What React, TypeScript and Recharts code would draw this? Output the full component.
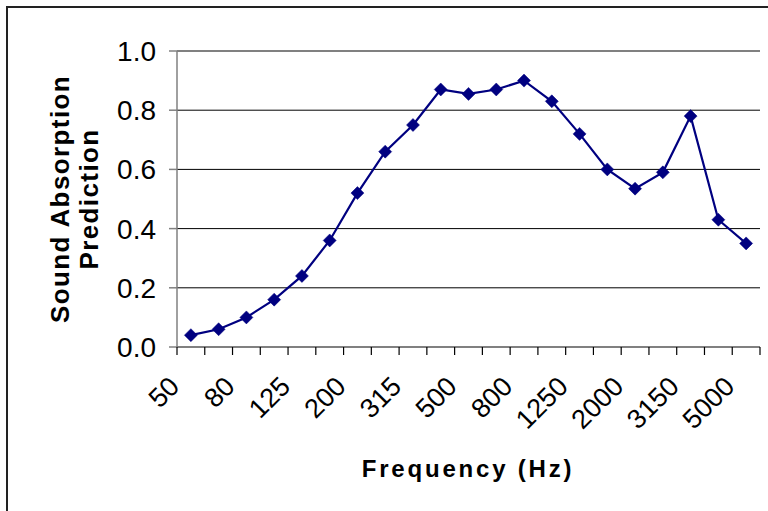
import React from "react";
import { LineChart, Line, XAxis, YAxis, CartesianGrid, ReferenceLine, Label } from "recharts";

const frequencies = ["50", "63", "80", "100", "125", "160", "200", "250", "315", "400", "500", "630", "800", "1000", "1250", "1600", "2000", "2500", "3150", "4000", "5000"];
const absorption = [0.04, 0.06, 0.10, 0.16, 0.24, 0.36, 0.52, 0.66, 0.75, 0.87, 0.855, 0.87, 0.90, 0.83, 0.72, 0.60, 0.535, 0.59, 0.78, 0.43, 0.35];
const yTicks = [0, 0.2, 0.4, 0.6, 0.8, 1.0];
const labelIdx = frequencies.map((_, i) => i).filter((i) => i % 2 === 0);
const boundaryTicks = frequencies.map((_, i) => i - 0.5).concat([frequencies.length - 0.5]);
const allTicks = [...boundaryTicks, ...labelIdx].sort((a, b) => a - b);

const data = frequencies.map((f, i) => ({ idx: i, freq: f, value: absorption[i] }));

const FONT = "'Liberation Sans', Arial, sans-serif";
const NAVY = "#000080";

const FreqTick = (props: any) => {
  const { x, y, payload } = props;
  const v = payload.value;
  if (!Number.isInteger(v)) {
    return <line x1={x} y1={y} x2={x} y2={y + 8} stroke="#000" strokeWidth={1.2} />;
  }
  const label = frequencies[v];
  const ax = x - 10;
  const ay = y + 41;
  return (
    <text
      x={ax}
      y={ay}
      transform={`rotate(-45, ${ax}, ${ay})`}
      textAnchor="end"
      fontFamily={FONT}
      fontSize={27}
      fill="#000"
    >
      {label}
    </text>
  );
};

const Diamond = (props: any) => {
  const { cx, cy, index } = props;
  if (cx == null || cy == null) return <g key={index} />;
  const r = 6.5;
  return (
    <polygon
      key={index}
      points={`${cx},${cy - r} ${cx + r},${cy} ${cx},${cy + r} ${cx - r},${cy}`}
      fill={NAVY}
      stroke={NAVY}
      strokeWidth={0.5}
    />
  );
};

export default function App() {
  return (
    <div style={{ position: "relative", width: 768, height: 511, background: "#fff", overflow: "hidden" }}>
      <style>{`body{margin:0;}`}</style>
      <div
        style={{
          position: "absolute",
          left: 6,
          top: 6,
          width: 762,
          height: 505,
          borderLeft: "2px solid #222",
          borderTop: "2px solid #222",
          boxSizing: "border-box",
          pointerEvents: "none",
        }}
      />
      <LineChart width={768} height={511} data={data} margin={{ top: 51, right: 8, bottom: 0, left: 0 }}>
        <CartesianGrid vertical={false} stroke="#000" strokeWidth={1} />
        <XAxis
          type="number"
          dataKey="idx"
          domain={[-0.5, frequencies.length - 0.5]}
          ticks={allTicks}
          interval={0}
          tick={<FreqTick />}
          tickLine={false}
          tickSize={0}
          tickMargin={0}
          axisLine={{ stroke: "#808080", strokeWidth: 1.5 }}
          height={164}
          allowDataOverflow
        >
          <Label
            content={() => (
              <text
                x={468}
                y={477}
                textAnchor="middle"
                fontFamily={FONT}
                fontWeight="bold"
                fontSize={24}
                letterSpacing={2.8}
                fill="#000"
              >
                Frequency (Hz)
              </text>
            )}
          />
        </XAxis>
        <YAxis
          type="number"
          domain={[0, 1]}
          ticks={yTicks}
          interval={0}
          width={177}
          tickFormatter={(v: number) => v.toFixed(1)}
          tick={{ fontFamily: FONT, fontSize: 28, fill: "#000" }}
          tickLine={{ stroke: "#808080", strokeWidth: 1.5 }}
          tickSize={8}
          tickMargin={13}
          axisLine={{ stroke: "#808080", strokeWidth: 1.5 }}
        >
          <Label
            content={() => (
              <text
                transform="rotate(-90)"
                textAnchor="middle"
                fontFamily={FONT}
                fontWeight="bold"
                fontSize={26}
                letterSpacing={1.4}
                fill="#000"
              >
                <tspan x={-199} y={69}>Sound Absorption</tspan>
                <tspan x={-199} y={98}>Prediction</tspan>
              </text>
            )}
          />
        </YAxis>
        <ReferenceLine y={1} stroke="#808080" strokeWidth={1.5} />
        <Line
          type="linear"
          dataKey="value"
          stroke={NAVY}
          strokeWidth={2.2}
          dot={<Diamond />}
          activeDot={false}
          isAnimationActive={false}
        />
      </LineChart>
    </div>
  );
}
